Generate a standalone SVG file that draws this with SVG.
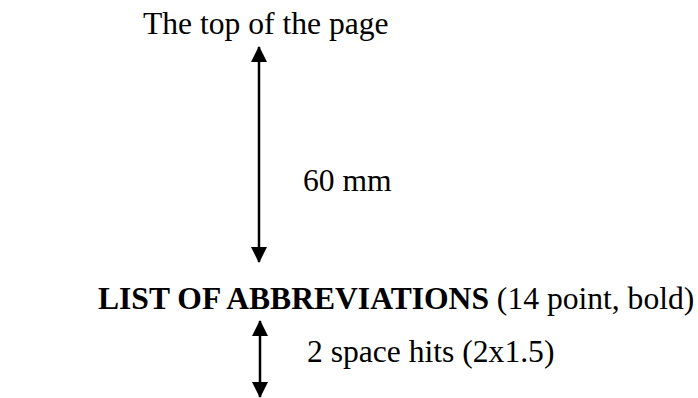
<svg xmlns="http://www.w3.org/2000/svg" width="698" height="398" viewBox="0 0 698 398">
<style>
text{font-family:"Liberation Serif","Times New Roman",serif;font-size:31.6px;fill:#000}
.b{font-weight:bold}
.c line{stroke:#000;stroke-width:2.5}
</style>
<defs>
<marker id="ah" markerUnits="userSpaceOnUse" markerWidth="16" markerHeight="16" viewBox="0 0 16 16" refX="15" refY="8" orient="auto-start-reverse">
<path d="M0,0 L16,8 L0,16 Z" fill="#000"/>
</marker>
</defs>
<rect width="698" height="398" fill="#fff"/>
<g id="connectors" class="c">
<line x1="259" y1="47" x2="259" y2="262" marker-start="url(#ah)" marker-end="url(#ah)"/>
<line x1="260" y1="321" x2="260" y2="397" marker-start="url(#ah)" marker-end="url(#ah)"/>
</g>
<g id="top"><text x="143" y="34">The top of the page</text></g>
<g id="dist1"><text x="303" y="191">60 mm</text></g>
<g id="heading"><text x="98" y="309"><tspan class="b">LIST OF ABBREVIATIONS</tspan> (14 point, bold)</text></g>
<g id="dist2"><text x="307" y="362">2 space hits (2x1.5)</text></g>
</svg>
